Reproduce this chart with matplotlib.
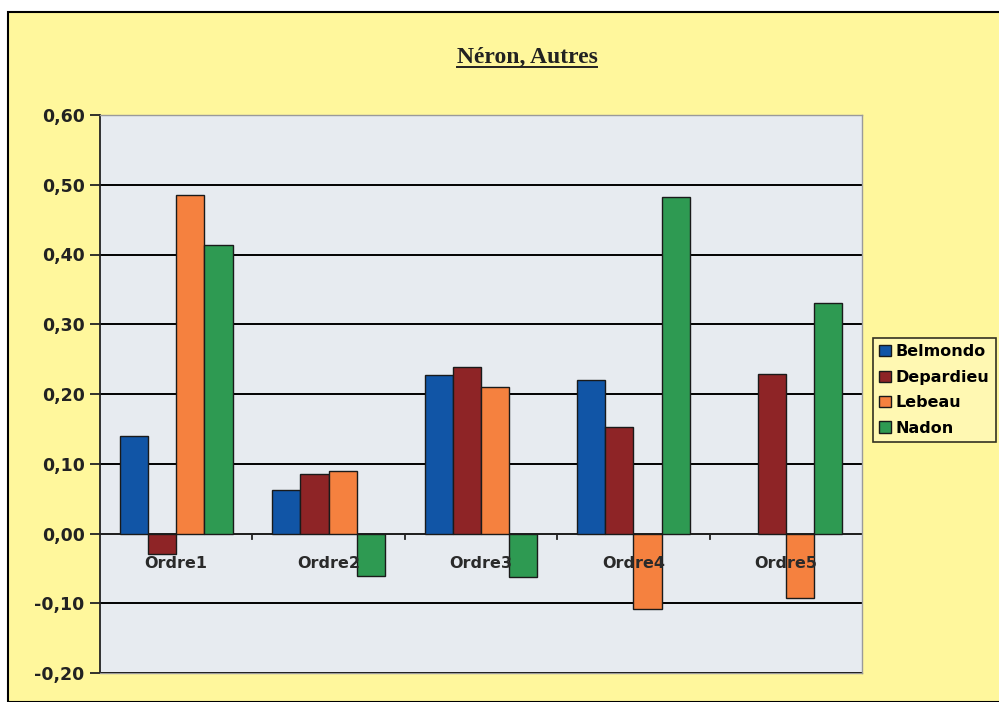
import numpy as np
import matplotlib
matplotlib.use("Agg")
import matplotlib.pyplot as plt
from matplotlib.patches import Rectangle
from matplotlib.lines import Line2D
from matplotlib.ticker import FuncFormatter, MultipleLocator

# Data
categories = ["Ordre1", "Ordre2", "Ordre3", "Ordre4", "Ordre5"]
series_names = ["Belmondo", "Depardieu", "Lebeau", "Nadon"]
belmondo = [0.14, 0.062, 0.227, 0.22, np.nan]
depardieu = [-0.03, 0.085, 0.239, 0.153, 0.228]
lebeau = [0.485, 0.089, 0.21, -0.108, -0.092]
nadon = [0.413, -0.061, -0.063, 0.482, 0.331]
colors = ["#1155A6", "#8E2426", "#F5813F", "#2E9A52"]

W, H = 999, 702
fig = plt.figure(figsize=(W / 100, H / 100), dpi=100, facecolor="white")

# Yellow chart area with black frame
bg = Rectangle((8 / W, 0), 1.0, 1 - 12 / H, transform=fig.transFigure,
               facecolor="#FFF79C", edgecolor="black", linewidth=1.5, zorder=-10)
fig.patches.append(bg)

ax = fig.add_axes([100 / W, 1 - 673 / H, 762 / W, 558 / H])
ax.set_facecolor("#E7EBF0")

x = np.arange(len(categories))
bw = 0.185
data = [belmondo, depardieu, lebeau, nadon]
for i, (vals, c, name) in enumerate(zip(data, colors, series_names)):
    ax.bar(x + (i - 1.5) * bw, vals, width=bw, color=c, edgecolor="#1a1a1a",
           linewidth=1.0, label=name, zorder=3)

ax.set_xlim(-0.5, len(categories) - 0.5)
ax.set_ylim(-0.20, 0.60)
ax.yaxis.set_major_locator(MultipleLocator(0.10))
ax.yaxis.set_major_formatter(FuncFormatter(lambda v, p: f"{v:.2f}".replace(".", ",")))
ax.grid(axis="y", color="black", linewidth=1.4, zorder=1)
ax.set_axisbelow(True)

for s in ["top", "right", "bottom"]:
    ax.spines[s].set_color("#9a9a9a")
    ax.spines[s].set_linewidth(1.0)
ax.spines["left"].set_color("#222222")
ax.spines["left"].set_linewidth(1.3)

ax.tick_params(axis="y", direction="out", length=7, width=1.3, color="#222222",
               pad=4, labelsize=12.5)
for lab in ax.get_yticklabels():
    lab.set_fontweight("bold")
    lab.set_color("#222222")

# x axis drawn at zero, labels just below it
ax.set_xticks([])
ax.axhline(0, color="#222222", linewidth=1.4, zorder=2)
for b in np.arange(0.5, len(categories) - 0.5, 1.0):
    ax.plot([b, b], [0, -0.008], color="#222222", linewidth=1.3, zorder=2,
            clip_on=False)
for xi, cat in zip(x, categories):
    ax.text(xi, -0.043, cat, ha="center", va="center", fontsize=11.5,
            fontweight="bold", color="#2a2a2a", zorder=4)

# Title with underline
title = fig.text(527 / W, 1 - 57 / H, "Néron, Autres", ha="center", va="center",
                 fontsize=17, fontweight="bold", family="Liberation Serif",
                 color="#222222")
fig.canvas.draw()
bb = title.get_window_extent().transformed(fig.transFigure.inverted())
fig.lines.append(Line2D([bb.x0, bb.x1], [bb.y0 + 0.001, bb.y0 + 0.001],
                        transform=fig.transFigure, color="#222222", linewidth=1.4))

leg = fig.legend(loc="upper left", bbox_to_anchor=(873 / W, 1 - 338 / H),
                 borderaxespad=0, frameon=True, fancybox=False, edgecolor="black",
                 facecolor="#FFF9B8", handlelength=0.7, handleheight=0.7,
                 handletextpad=0.3, labelspacing=0.65, borderpad=0.4,
                 prop={"weight": "bold", "size": 11.5})
leg.get_frame().set_linewidth(1.2)

fig.savefig("out.png", dpi=100)
